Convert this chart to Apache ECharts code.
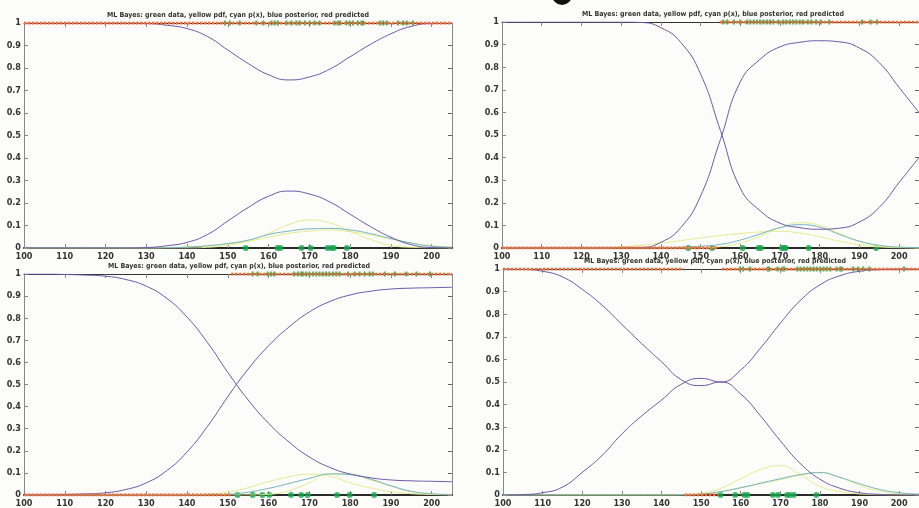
<!DOCTYPE html>
<html>
<head>
<meta charset="utf-8">
<script src="https://cdn.jsdelivr.net/npm/echarts@6/dist/echarts.min.js"></script>
<style>
  html, body { margin: 0; padding: 0; background: #fcfcfa; }
  #chart { width: 919px; height: 508px; }
</style>
</head>
<body>
<div id="chart"></div>
<script>
// x grid of the curves
const xs = [100, 105, 110, 115, 120, 125, 130, 135, 140, 145, 150, 155, 160, 165, 170, 175, 180, 185, 190, 195, 200, 205];
const titleText = 'ML Bayes: green data, yellow pdf, cyan p(x), blue posterior, red predicted';

// panel 1 (top left)
const p1Hi   = [1, 1, 1, 1, 1, 1, 0.998, 0.99, 0.975, 0.94, 0.88, 0.82, 0.77, 0.747, 0.76, 0.795, 0.85, 0.905, 0.952, 0.985, 0.998, 1];
const p1Lo   = [0, 0, 0, 0, 0, 0, 0.002, 0.01, 0.025, 0.06, 0.12, 0.18, 0.23, 0.253, 0.24, 0.205, 0.15, 0.095, 0.048, 0.015, 0.002, 0];
const p1PdfA = [0, 0, 0, 0, 0, 0, 0, 0, 0, 0.003, 0.012, 0.03, 0.065, 0.105, 0.124, 0.112, 0.075, 0.038, 0.012, 0.003, 0.001, 0];
const p1PdfB = [0, 0, 0, 0, 0, 0, 0, 0.002, 0.005, 0.01, 0.018, 0.03, 0.048, 0.065, 0.075, 0.08, 0.072, 0.058, 0.04, 0.022, 0.01, 0.004];
const p1Px   = [0, 0, 0, 0, 0, 0, 0, 0.001, 0.004, 0.01, 0.02, 0.035, 0.06, 0.075, 0.085, 0.087, 0.08, 0.064, 0.042, 0.022, 0.008, 0.003];
const g1One  = [149.3, 150.5, 152.9, 157, 158.7, 160.7, 161.5, 162.3, 164.4, 165.6, 166.8, 167.6, 168.9, 170.1, 171.3, 172.5, 176.2, 177, 177.5, 179.1, 179.9, 180.7, 181.9, 182.8, 183.2, 187.3, 188.1, 189, 191.8, 193, 193.9, 195.4];
const g1Zero = [154.4, 162.2, 162.9, 168.1, 170.3, 174.5, 175.4, 176, 179.2];
const r1One  = [[100, 205]];
const r1Zero = [];

// panel 2 (top right)
const p2Hi   = [1, 1, 1, 1, 1, 1, 1, 0.998, 0.975, 0.91, 0.77, 0.52, 0.265, 0.165, 0.11, 0.09, 0.083, 0.088, 0.115, 0.18, 0.29, 0.4];
const p2Lo   = [0, 0, 0, 0, 0, 0, 0, 0.002, 0.025, 0.09, 0.23, 0.48, 0.735, 0.835, 0.89, 0.91, 0.917, 0.912, 0.885, 0.82, 0.71, 0.6];
const p2PdfA = [0, 0, 0, 0, 0, 0, 0.005, 0.012, 0.022, 0.033, 0.045, 0.055, 0.064, 0.071, 0.074, 0.066, 0.05, 0.03, 0.014, 0.005, 0.001, 0];
const p2PdfB = [0, 0, 0, 0, 0, 0, 0, 0, 0, 0, 0.001, 0.006, 0.022, 0.052, 0.09, 0.112, 0.1, 0.065, 0.03, 0.01, 0.003, 0];
const p2Px   = [0, 0, 0, 0, 0, 0, 0, 0, 0.001, 0.003, 0.008, 0.016, 0.035, 0.062, 0.09, 0.103, 0.092, 0.06, 0.03, 0.012, 0.004, 0.002];
const g2One  = [155.7, 156.7, 158.4, 160, 161.7, 162.5, 163.4, 164.2, 165, 165.8, 166.7, 167.5, 168.3, 169.6, 170.8, 171.6, 172.5, 173.3, 174.1, 175, 175.8, 177, 177.9, 179.1, 180.3, 182.4, 190.7, 192.8, 194.4];
const g2Zero = [146.9, 152.9, 160.6, 164.6, 165.2, 170.5, 171, 171.4, 177.2, 194.2];
const r2One  = [[154.8, 205]];
const r2Zero = [[100, 154.3]];

// panel 3 (bottom left)
const p3Hi   = [1, 1, 0.998, 0.995, 0.99, 0.975, 0.945, 0.89, 0.805, 0.69, 0.555, 0.43, 0.325, 0.24, 0.172, 0.125, 0.095, 0.078, 0.068, 0.064, 0.062, 0.06];
const p3Lo   = [0, 0, 0.002, 0.005, 0.01, 0.025, 0.055, 0.11, 0.195, 0.31, 0.445, 0.57, 0.675, 0.76, 0.828, 0.875, 0.905, 0.922, 0.932, 0.936, 0.938, 0.94];
const p3PdfA = [0, 0, 0, 0, 0, 0, 0, 0, 0.001, 0.005, 0.013, 0.033, 0.06, 0.082, 0.094, 0.085, 0.055, 0.032, 0.015, 0.006, 0.002, 0];
const p3PdfB = [0, 0, 0, 0, 0, 0, 0, 0, 0, 0, 0, 0, 0.003, 0.02, 0.055, 0.097, 0.095, 0.068, 0.04, 0.015, 0.004, 0.001];
const p3Px   = [0, 0, 0, 0, 0, 0, 0, 0, 0, 0.001, 0.003, 0.013, 0.03, 0.052, 0.075, 0.095, 0.092, 0.072, 0.042, 0.017, 0.006, 0.002];
const g3One  = [156.1, 157.3, 159.8, 160.6, 161.4, 166.3, 167.2, 168, 168.4, 169.2, 170, 170.9, 171.7, 172.5, 173.3, 174.1, 174.9, 175.8, 176.6, 177.4, 179.5, 181.1, 182.3, 183.6, 184.8, 185.6, 188.5, 191, 193.8, 196.3, 199.6];
const g3Zero = [152.4, 156.1, 158.5, 160.2, 165.5, 168, 169.6, 176.8, 179.9, 185.9];
const r3One  = [[150.8, 205]];
const r3Zero = [[100, 150.6]];

// panel 4 (bottom right)
const p4Hi   = [1, 0.998, 0.99, 0.965, 0.91, 0.84, 0.755, 0.67, 0.59, 0.51, 0.484, 0.5, 0.447, 0.35, 0.24, 0.14, 0.07, 0.03, 0.01, 0.003, 0, 0];
const p4Lo   = [0, 0.002, 0.01, 0.035, 0.1, 0.175, 0.27, 0.35, 0.42, 0.49, 0.516, 0.5, 0.553, 0.65, 0.76, 0.86, 0.93, 0.97, 0.99, 0.997, 1, 1];
const p4PdfA = [0, 0, 0, 0, 0, 0, 0, 0, 0, 0.001, 0.008, 0.03, 0.072, 0.112, 0.13, 0.09, 0.038, 0.015, 0.005, 0.001, 0, 0];
const p4PdfB = [0, 0, 0, 0, 0, 0, 0, 0, 0, 0, 0.004, 0.015, 0.033, 0.05, 0.068, 0.087, 0.1, 0.078, 0.042, 0.018, 0.005, 0.001];
const p4Px   = [0, 0, 0, 0, 0, 0, 0, 0, 0, 0.001, 0.004, 0.015, 0.032, 0.052, 0.072, 0.09, 0.099, 0.078, 0.05, 0.025, 0.01, 0.004];
const g4One  = [159.8, 160.6, 162.3, 166.8, 167.2, 169.3, 170.5, 171, 174.3, 175.1, 176, 176.8, 177.6, 178.4, 179.2, 180.1, 180.9, 181.7, 182.6, 184.2, 185.1, 185.5, 188.4, 189.6, 190.9, 192.5, 201.2];
const g4Zero = [154.9, 158.6, 160.9, 161.7, 168.1, 169.4, 171.7, 172.4, 173.4, 179.1];
const r4One  = [[100, 145.6], [155.3, 205]];
const r4Zero = [[145.9, 154.2]];

const panels = [
  { hi: p1Hi, lo: p1Lo, pdfA: p1PdfA, pdfB: p1PdfB, px: p1Px, gOne: g1One, gZero: g1Zero, rOne: r1One, rZero: r1Zero },
  { hi: p2Hi, lo: p2Lo, pdfA: p2PdfA, pdfB: p2PdfB, px: p2Px, gOne: g2One, gZero: g2Zero, rOne: r2One, rZero: r2Zero },
  { hi: p3Hi, lo: p3Lo, pdfA: p3PdfA, pdfB: p3PdfB, px: p3Px, gOne: g3One, gZero: g3Zero, rOne: r3One, rZero: r3Zero },
  { hi: p4Hi, lo: p4Lo, pdfA: p4PdfA, pdfB: p4PdfB, px: p4Px, gOne: g4One, gZero: g4Zero, rOne: r4One, rZero: r4Zero }
];

// layout of the four boxes
const grids = [
  { left: 24, top: 23, width: 428, height: 225 },
  { left: 502, top: 22, width: 422, height: 226 },
  { left: 24, top: 274, width: 428, height: 225 },
  { left: 503, top: 269, width: 423, height: 226 }
];
const titlePos = [[238, 15], [713, 14], [239, 266], [715, 261]];

const FONT = '"Liberation Sans Narrow", "DejaVu Sans Condensed", "Liberation Sans", sans-serif';
const PURPLE = '#6a58a8';
const YELLOW = '#e2ec8e';
const CYAN = '#74b2bf';
const RED = '#f36a32';
const GREEN = '#18a64c';
// green data marker: a small thick plus
const PLUS = 'path://M-1.6,-4H1.6V-1.6H4V1.6H1.6V4H-1.6V1.6H-4V-1.6H-1.6Z';

const xAxes = [];
const yAxes = [];
const series = [];

panels.forEach(function (p, i) {
  xAxes.push({
    gridIndex: i, type: 'value', min: 100, max: 205, interval: 10, position: 'bottom',
    axisLine: { show: true, onZero: false, lineStyle: { color: '#2a2a2a', width: 2 } },
    axisTick: { show: true, inside: true, length: 4, lineStyle: { color: '#888' } },
    axisLabel: { show: true, fontSize: 9, fontWeight: 'bold', color: '#333', margin: 4, showMaxLabel: false, fontFamily: FONT },
    splitLine: { show: false }
  });
  xAxes.push({
    gridIndex: i, type: 'value', min: 100, max: 205, interval: 10, position: 'top',
    axisLine: { show: true, onZero: false, lineStyle: { color: '#333', width: 1 } },
    axisTick: { show: true, inside: true, length: 4, lineStyle: { color: '#888' } },
    axisLabel: { show: false },
    splitLine: { show: false }
  });
  yAxes.push({
    gridIndex: i, type: 'value', min: 0, max: 1, interval: 0.1, position: 'left',
    axisLine: { show: true, onZero: false, lineStyle: { color: '#888', width: 1 } },
    axisTick: { show: true, inside: true, length: 4, lineStyle: { color: '#888' } },
    axisLabel: { show: true, fontSize: 9, fontWeight: 'bold', color: '#333', margin: 3, fontFamily: FONT },
    splitLine: { show: false }
  });
  yAxes.push({
    gridIndex: i, type: 'value', min: 0, max: 1, interval: 0.1, position: 'right',
    axisLine: { show: true, onZero: false, lineStyle: { color: '#888', width: 1 } },
    axisTick: { show: true, inside: true, length: 4, lineStyle: { color: '#666' } },
    axisLabel: { show: false },
    splitLine: { show: false }
  });

  const xi = 2 * i;
  const curve = function (vals, color) {
    return {
      type: 'line', xAxisIndex: xi, yAxisIndex: xi, smooth: 0.5,
      symbol: 'none', silent: true, lineStyle: { color: color, width: 1 },
      data: xs.map(function (x, k) { return [x, vals[k]]; })
    };
  };
  series.push(curve(p.pdfA, YELLOW));
  series.push(curve(p.pdfB, YELLOW));
  series.push(curve(p.px, CYAN));
  series.push(curve(p.hi, PURPLE));
  series.push(curve(p.lo, PURPLE));

  // predicted class as a row of red marks
  [[p.rOne, 1], [p.rZero, 0]].forEach(function (pair) {
    pair[0].forEach(function (seg) {
      series.push({
        type: 'line', xAxisIndex: xi, yAxisIndex: xi, symbol: 'none', silent: true,
        lineStyle: { color: RED, width: 2.8, type: [2.6, 1.4], cap: 'butt' },
        data: [[seg[0], pair[1]], [seg[1], pair[1]]]
      });
    });
  });

  // green data
  series.push({
    type: 'scatter', xAxisIndex: xi, yAxisIndex: xi, symbol: PLUS, symbolSize: 5, silent: true,
    itemStyle: { color: GREEN },
    data: p.gOne.map(function (x) { return [x, 1]; })
  });
  series.push({
    type: 'scatter', xAxisIndex: xi, yAxisIndex: xi, symbol: 'circle', symbolSize: 6, silent: true,
    itemStyle: { color: GREEN },
    data: p.gZero.map(function (x) { return [x, 0]; })
  });
});

const graphics = titlePos.map(function (pos) {
  return {
    type: 'text', x: pos[0], y: pos[1], z: 100, silent: true,
    style: { text: titleText, fill: '#333', font: 'bold 7px ' + FONT, align: 'center', verticalAlign: 'middle' }
  };
});
graphics.push({ type: 'circle', shape: { cx: 562, cy: -5, r: 10 }, style: { fill: '#111' }, silent: true });

const chart = echarts.init(document.getElementById('chart'));
chart.setOption({
  backgroundColor: '#fcfcfa',
  animation: false,
  grid: grids,
  xAxis: xAxes,
  yAxis: yAxes,
  series: series,
  graphic: graphics
});
</script>
</body>
</html>
